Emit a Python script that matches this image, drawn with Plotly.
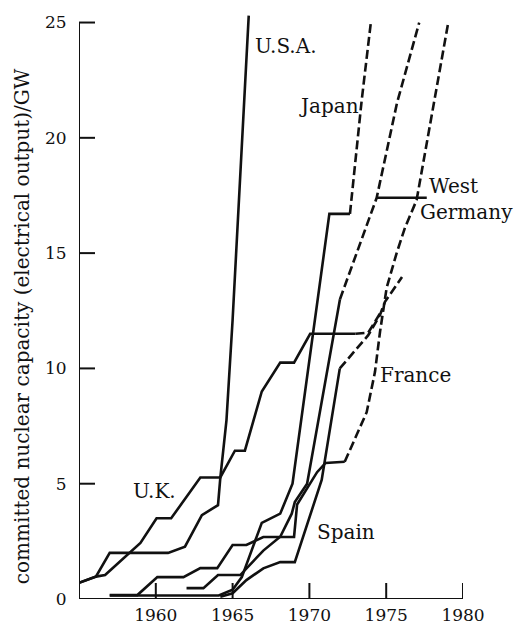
import plotly.graph_objects as go

# ---- committed capacity (GW) by year; solid = committed, dashed = planned ----
usa_years = [1955.0, 1956.1, 1957.0, 1960.8, 1961.9, 1963.0, 1964.05, 1964.2, 1964.6, 1965.0, 1966.05]
usa_gw = [0.7, 0.97, 2.0, 2.0, 2.27, 3.64, 4.07, 5.25, 7.75, 12.1, 25.3]

uk_years = [1955.0, 1956.1, 1956.7, 1959.0, 1960.05, 1961.0, 1962.9, 1964.2, 1965.15, 1965.8,
            1966.9, 1968.1, 1969.0, 1970.05, 1973.0]
uk_gw = [0.7, 0.97, 1.04, 2.43, 3.5, 3.5, 5.27, 5.27, 6.43, 6.43, 9.0, 10.25, 10.25, 11.5, 11.5]
uk_plan_years = [1973.0, 1973.83, 1974.8]
uk_plan_gw = [11.5, 11.55, 12.6]

japan_years = [1957.0, 1964.1, 1965.0, 1965.6, 1966.9, 1968.1, 1968.9, 1971.3, 1972.64]
japan_gw = [0.15, 0.15, 0.4, 0.95, 3.3, 3.7, 5.0, 16.7, 16.7]
japan_plan_years = [1972.64, 1973.4, 1974.0]
japan_plan_gw = [16.7, 21.6, 25.0]

france_years = [1957.0, 1958.8, 1960.1, 1961.8, 1962.9, 1964.0, 1965.0, 1965.9, 1967.0, 1969.0,
                1969.2, 1970.0, 1970.5, 1971.05, 1972.3]
france_gw = [0.17, 0.17, 0.95, 0.95, 1.34, 1.34, 2.34, 2.34, 2.69, 2.69, 4.1, 4.95, 5.5, 5.9, 5.95]
france_plan_years = [1972.3, 1973.73, 1974.27, 1974.6, 1975.03, 1975.68, 1976.22, 1976.98, 1979.04]
france_plan_gw = [5.95, 8.1, 9.85, 11.6, 13.5, 15.0, 16.1, 17.3, 25.0]

wg_years = [1962.0, 1963.1, 1964.05, 1965.5, 1967.0, 1968.1, 1968.85, 1969.05, 1969.85, 1971.99]
wg_gw = [0.47, 0.47, 1.04, 1.04, 2.1, 2.7, 3.7, 4.2, 5.0, 13.0]
wg_plan_years = [1971.99, 1974.38, 1975.7, 1977.15]
wg_plan_gw = [13.0, 17.4, 21.5, 25.0]
wg_level_years = [1974.38, 1977.64]
wg_level_gw = [17.4, 17.4]

spain_years = [1964.2, 1965.0, 1965.9, 1967.0, 1968.1, 1969.05, 1970.8, 1971.98]
spain_gw = [0.1, 0.25, 0.82, 1.33, 1.6, 1.6, 5.16, 10.0]
spain_plan_years = [1971.98, 1972.74, 1973.83, 1974.59, 1974.92, 1976.03]
spain_plan_gw = [10.0, 10.58, 11.44, 12.31, 12.89, 13.96]

# country labels: (text, year, GW)
labels = [
    ("U.S.A.", 1966.3, 24.0),
    ("Japan", 1969.2, 21.4),
    ("West", 1977.66, 17.9),
    ("Germany", 1977.07, 16.8),
    ("France", 1974.47, 9.72),
    ("U.K.", 1958.4, 4.69),
    ("Spain", 1970.37, 2.9),
]

x_ticks = [1960, 1965, 1970, 1975, 1980]
y_ticks = [0, 5, 10, 15, 20, 25]
y_title = "committed nuclear capacity (electrical output)/GW"

INK = "#111111"
SERIF = "DejaVu Serif"
LW = 2.6
DASH = "9px,4px"
TICK = 16  # length of the inward tick marks, px

fig = go.Figure()

solid = [(usa_years, usa_gw), (uk_years, uk_gw), (japan_years, japan_gw),
         (france_years, france_gw), (wg_years, wg_gw), (spain_years, spain_gw),
         (wg_level_years, wg_level_gw)]
dashed = [(uk_plan_years, uk_plan_gw), (japan_plan_years, japan_plan_gw),
          (france_plan_years, france_plan_gw), (wg_plan_years, wg_plan_gw),
          (spain_plan_years, spain_plan_gw)]

for xs, ys in solid:
    fig.add_trace(go.Scatter(x=xs, y=ys, mode="lines",
                             line=dict(color=INK, width=LW), showlegend=False,
                             hoverinfo="skip"))
for xs, ys in dashed:
    fig.add_trace(go.Scatter(x=xs, y=ys, mode="lines",
                             line=dict(color=INK, width=LW, dash=DASH), showlegend=False,
                             hoverinfo="skip"))

for text, x, y in labels:
    fig.add_annotation(x=x, y=y, text=text, showarrow=False, xanchor="left",
                       yanchor="middle", font=dict(family=SERIF, size=20, color=INK))

# rotated axis title, set slightly below the middle of the axis
fig.add_annotation(x=-57 / 384, y=0.464, xref="paper", yref="paper", text=y_title,
                   textangle=-90, showarrow=False, xanchor="center", yanchor="middle",
                   font=dict(family=SERIF, size=20, color=INK))

# axis spines: left from 0 to 25 GW, bottom from 1955 to 1980
fig.add_shape(type="line", x0=1955, x1=1955, y0=0, y1=25, xref="x", yref="y",
              line=dict(color=INK, width=2))
fig.add_shape(type="line", x0=1955, x1=1980, y0=0, y1=0, xref="x", yref="y",
              line=dict(color=INK, width=2))

# inward tick marks, fixed pixel length
for v in y_ticks:
    fig.add_shape(type="line", xref="x", yref="y", xsizemode="pixel", xanchor=1955,
                  x0=0, x1=TICK, y0=v, y1=v, line=dict(color=INK, width=2))
for v in x_ticks:
    fig.add_shape(type="line", xref="x", yref="y", ysizemode="pixel", yanchor=0,
                  y0=0, y1=TICK, x0=v, x1=v, line=dict(color=INK, width=2))

# axis ticks are only used to space the labels away from the spines
fig.update_xaxes(range=[1955, 1980], tickvals=x_ticks, ticktext=[str(v) for v in x_ticks],
                 ticks="outside", ticklen=1, tickcolor="rgba(0,0,0,0)",
                 showgrid=False, zeroline=False, showline=False,
                 tickfont=dict(family=SERIF, size=17, color=INK))
fig.update_yaxes(range=[0, 25.5], tickvals=y_ticks, ticktext=[str(v) for v in y_ticks],
                 ticks="outside", ticklen=8, tickcolor="rgba(0,0,0,0)",
                 showgrid=False, zeroline=False, showline=False,
                 tickfont=dict(family=SERIF, size=17, color=INK))

fig.update_layout(width=515, height=625, margin=dict(l=79, r=52, t=11, b=26, autoexpand=False),
                  paper_bgcolor="white", plot_bgcolor="white")

fig.write_html("out.html")
